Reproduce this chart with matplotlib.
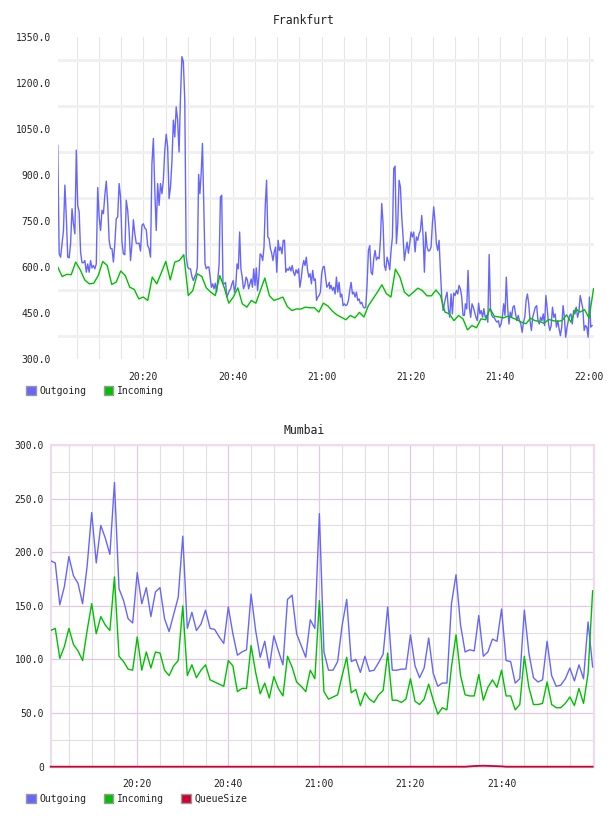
import numpy as np
import matplotlib
matplotlib.use('Agg')
import matplotlib.pyplot as plt
from matplotlib.patches import Patch
from matplotlib.ticker import FixedLocator, FuncFormatter, MultipleLocator

plt.rcParams['font.family'] = ['DejaVu Sans Mono', 'DejaVu Sans']

# ---------------- data ----------------
# Frankfurt outgoing, read in four consecutive time segments (minutes after 20:00)
fra_out_seg1 = [
    997, 643, 632, 676, 719, 867, 763, 632, 630, 676, 790, 741, 708, 981, 801, 780, 649, 614, 614, 621,
    583, 610, 583, 621, 597, 605, 594, 610, 859, 763, 719, 785, 774, 834, 880, 807, 687, 660, 660, 616,
    676, 758, 763, 872, 828, 681, 643, 640, 818, 785, 719, 621, 676, 754, 708, 678, 676, 678, 652, 736,
    741, 727, 722, 670, 660, 632, 937, 1019, 850, 719, 872, 801, 872, 839, 883, 981, 1033, 992, 823, 861,
    943, 1079, 1024, 1122, 1079, 975, 1155, 1286, 1270, 1144, 632, 600, 594, 594, 569, 556,
]
fra_out_seg2 = [
    578, 600, 902, 839, 905, 1003, 807, 610, 594, 600, 600, 567, 534, 545, 529, 547, 518, 561, 610, 828,
    834, 545, 545, 550, 502, 512, 523, 529, 545, 556, 518, 540, 610, 594, 714, 594, 567, 529, 540, 567,
    558, 529, 545, 561, 534, 594, 540, 597, 523, 567, 643, 638, 621, 665, 801, 883, 698, 692, 660, 645,
    621, 649, 665, 583, 687, 654, 665, 643, 687, 687, 583, 594, 589, 600, 587, 605, 583, 572, 591, 580,
    594, 534, 561, 600, 621, 605, 632, 589, 567, 578, 545, 589, 556, 561, 491, 502, 507, 518, 578, 600,
    602, 567, 534, 540, 550,
]
fra_out_seg3 = [
    529, 540, 524, 534, 512, 567, 518, 550, 502, 512, 474, 480, 474, 477, 491, 524, 550, 512, 518, 502,
    518, 491, 496, 480, 485, 471, 466, 469, 545, 654, 670, 583, 575, 627, 654, 623, 632, 627, 687, 807,
    741, 605, 589, 632, 616, 591, 654, 698, 921, 929, 676, 741, 883, 861, 763, 698, 621, 654, 681, 645,
    676, 714, 698, 714, 649, 698, 687, 708, 719, 768, 703, 583, 714, 665, 652, 654, 665, 741, 796, 747,
    676, 654, 687, 589, 502, 458, 480, 502, 518, 463, 436, 512, 447, 515, 507, 524, 512, 540, 529, 502,
    442, 442,
]
fra_out_seg4 = [
    480, 463, 589, 469, 436, 480, 469, 453, 436, 425, 482, 447, 458, 436, 464, 436, 442, 420, 641, 464,
    442, 436, 434, 425, 420, 425, 404, 414, 436, 480, 442, 567, 469, 414, 453, 436, 469, 474, 447, 425,
    442, 425, 414, 387, 420, 436, 491, 512, 480, 425, 393, 436, 453, 469, 474, 425, 414, 436, 425, 447,
    409, 507, 464, 414, 393, 409, 469, 436, 447, 404, 425, 398, 376, 404, 474, 436, 371, 404, 425, 442,
    447, 414, 458, 447, 469, 436, 453, 507, 485, 464, 393, 409, 404, 371, 502, 404, 409,
]
# start / end minute of each segment
fra_out_spans = [(0.79, 31.21), (31.82, 61.73), (61.82, 92.02), (92.25, 120.67)]

fra_incoming = [
    600, 569, 576, 575, 616, 591, 558, 545, 547, 572, 618, 605, 543, 551, 587, 572, 534, 527, 496, 502,
    491, 567, 545, 581, 618, 558, 616, 621, 640, 507, 523, 578, 569, 532, 518, 507, 572, 532, 482, 502,
    532, 480, 469, 491, 482, 523, 564, 507, 491, 496, 502, 471, 458, 463, 463, 469, 467, 467, 453, 482,
    473, 456, 444, 436, 428, 442, 434, 452, 437, 474, 496, 518, 542, 513, 502, 593, 567, 518, 505, 518,
    531, 523, 506, 506, 525, 507, 453, 447, 425, 442, 431, 395, 409, 402, 431, 428, 464, 439, 437, 434,
    440, 434, 428, 420, 415, 433, 425, 423, 416, 429, 425, 423, 425, 444, 420, 464, 453, 461, 434, 529,
]

mum_outgoing = [
    192, 190, 151, 168, 196, 178, 171, 152, 187, 237, 190, 225, 213, 198, 265, 166, 155, 138, 134, 181,
    152, 167, 140, 163, 167, 138, 126, 142, 158, 215, 129, 144, 127, 133, 146, 129, 128, 121, 115, 149,
    124, 104, 107, 109, 161, 127, 102, 117, 92, 122, 108, 95, 156, 160, 124, 113, 102, 137, 129, 236,
    107, 90, 90, 98, 132, 156, 98, 100, 88, 103, 89, 90, 97, 105, 149, 90, 90, 91, 91, 123,
    94, 83, 92, 120, 87, 75, 78, 78, 152, 179, 132, 107, 109, 108, 141, 103, 107, 119, 117, 147,
    99, 98, 78, 82, 146, 106, 83, 79, 81, 117, 85, 75, 76, 82, 92, 80, 95, 82, 135, 93,
]

mum_incoming = [
    127, 129, 101, 112, 129, 114, 108, 99, 127, 152, 124, 140, 132, 127, 177, 103, 98, 91, 90, 121,
    90, 107, 92, 107, 106, 90, 85, 94, 99, 150, 85, 95, 83, 90, 95, 81, 79, 77, 75, 99,
    94, 70, 73, 73, 113, 88, 68, 78, 64, 84, 73, 66, 103, 93, 79, 75, 70, 90, 82, 155,
    70, 63, 65, 67, 85, 102, 69, 72, 57, 69, 63, 60, 67, 71, 106, 62, 62, 60, 63, 82,
    61, 58, 63, 77, 62, 49, 55, 53, 93, 123, 85, 67, 66, 66, 86, 62, 74, 81, 74, 90,
    66, 66, 53, 58, 103, 74, 58, 58, 59, 79, 58, 55, 55, 59, 65, 57, 73, 59, 87, 164,
]

mum_queue = [0] * 92 + [0.3, 0.6, 0.8, 0.9, 0.8, 0.6, 0.5, 0.3] + [0] * 20

fra_xtick_minutes = [20, 40, 60, 80, 100, 120]
fra_xtick_labels = ['20:20', '20:40', '21:00', '21:20', '21:40', '22:00']
fra_yticks = [300, 450, 600, 750, 900, 1050, 1200, 1350]
mum_xtick_minutes = [20, 40, 60, 80, 100]
mum_xtick_labels = ['20:20', '20:40', '21:00', '21:20', '21:40']
mum_yticks = [0, 50, 100, 150, 200, 250, 300]

C_OUT = '#6666ff'
C_IN = '#00c000'
C_Q = '#cc0033'
TXT = '#222222'

W, H = 608, 816
fig = plt.figure(figsize=(W / 100, H / 100), dpi=100)


def px_axes(l, t, r, b):
    return fig.add_axes([l / W, 1 - b / H, (r - l) / W, (b - t) / H])


def fmt(v, pos):
    return '0' if v == 0 else '%.1f' % v


# ---------------- Frankfurt ----------------
ax1 = px_axes(57.7, 37, 594, 359)
segs = [fra_out_seg1, fra_out_seg2, fra_out_seg3, fra_out_seg4]
t_out = np.concatenate([np.linspace(a, b, len(s)) for s, (a, b) in zip(segs, fra_out_spans)])
v_out = np.concatenate(segs)
t_in = np.linspace(0.78, 121.0, len(fra_incoming))
ax1.plot(t_out, v_out, color=C_OUT, lw=1.0, zorder=3)
ax1.plot(t_in, fra_incoming, color=C_IN, lw=1.0, zorder=4)
ax1.set_xlim(0.78, 121.1)
ax1.set_ylim(300, 1350)
ax1.xaxis.set_major_locator(FixedLocator(fra_xtick_minutes))
ax1.set_xticklabels(fra_xtick_labels)
ax1.xaxis.set_minor_locator(MultipleLocator(5))
ax1.yaxis.set_major_locator(FixedLocator(fra_yticks))
ax1.yaxis.set_major_formatter(FuncFormatter(fmt))
ax1.yaxis.set_minor_locator(FixedLocator([v + 75 for v in fra_yticks[:-1]]))
ax1.grid(which='both', axis='x', color='#e6e6e6', lw=0.8)
ax1.grid(which='minor', axis='y', color='#f0f0f0', lw=2.0)
ax1.grid(which='major', axis='y', visible=False)
ax1.set_axisbelow(True)
for s in ax1.spines.values():
    s.set_visible(False)
ax1.tick_params(which='both', length=0, labelsize=7, colors=TXT)
ax1.tick_params(axis='y', pad=5)
ax1.tick_params(axis='x', pad=9)
ax1.legend(handles=[Patch(facecolor=C_OUT, edgecolor='#999999', label='Outgoing'),
                    Patch(facecolor=C_IN, edgecolor='#999999', label='Incoming')],
           loc='upper left', bbox_to_anchor=(26 / W, 1 - 386 / H), bbox_transform=fig.transFigure,
           ncol=2, frameon=False, fontsize=7, handlelength=1.0, handleheight=1.0,
           handletextpad=0.35, columnspacing=1.8, borderpad=0, borderaxespad=0,
           labelcolor=TXT)
fig.text(304 / W, 1 - 20 / H, 'Frankfurt', ha='center', va='center', fontsize=8.3, color=TXT)

# ---------------- Mumbai ----------------
ax2 = px_axes(50.7, 445, 594, 766.7)
t_m = np.arange(1, len(mum_outgoing) + 1)
ax2.plot(t_m, mum_outgoing, color=C_OUT, lw=1.0, zorder=3)
ax2.plot(t_m, mum_incoming, color=C_IN, lw=1.0, zorder=4)
ax2.plot(t_m, mum_queue, color=C_Q, lw=1.3, zorder=5, clip_on=False)
ax2.set_xlim(1, 120.3)
ax2.set_ylim(0, 300)
ax2.xaxis.set_major_locator(FixedLocator(mum_xtick_minutes))
ax2.set_xticklabels(mum_xtick_labels)
ax2.xaxis.set_minor_locator(MultipleLocator(5))
ax2.yaxis.set_major_locator(FixedLocator(mum_yticks))
ax2.yaxis.set_major_formatter(FuncFormatter(fmt))
ax2.yaxis.set_minor_locator(MultipleLocator(25))
ax2.grid(which='minor', color='#e0e0e0', lw=0.8)
ax2.grid(which='major', color='#e3c8e3', lw=0.9)
ax2.set_axisbelow(True)
for s in ax2.spines.values():
    s.set_color('#eedcee')
    s.set_linewidth(1.6)
ax2.tick_params(which='both', length=0, labelsize=7, colors=TXT)
ax2.tick_params(axis='y', pad=5)
ax2.tick_params(axis='x', pad=9)
ax2.legend(handles=[Patch(facecolor=C_OUT, edgecolor='#999999', label='Outgoing'),
                    Patch(facecolor=C_IN, edgecolor='#999999', label='Incoming'),
                    Patch(facecolor=C_Q, edgecolor='#999999', label='QueueSize')],
           loc='upper left', bbox_to_anchor=(26 / W, 1 - 794 / H), bbox_transform=fig.transFigure,
           ncol=3, frameon=False, fontsize=7, handlelength=1.0, handleheight=1.0,
           handletextpad=0.35, columnspacing=1.8, borderpad=0, borderaxespad=0,
           labelcolor=TXT)
fig.text(304 / W, 1 - 430 / H, 'Mumbai', ha='center', va='center', fontsize=8.3, color=TXT)

fig.savefig('out.png', dpi=100, facecolor='white')
